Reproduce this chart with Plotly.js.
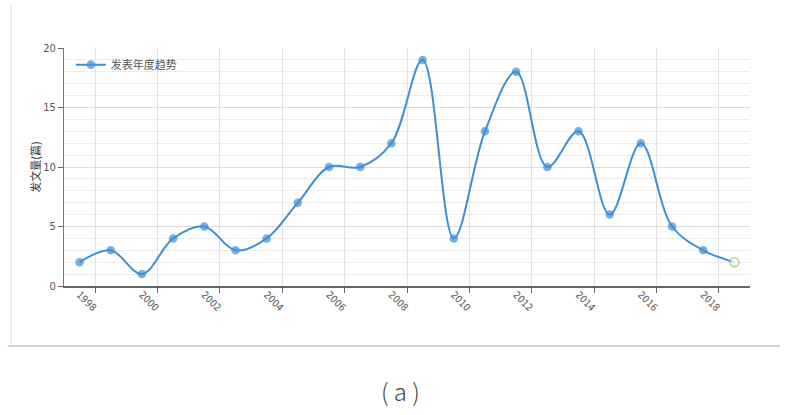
<!DOCTYPE html>
<html>
<head>
<meta charset="utf-8">
<script src="https://cdn.plot.ly/plotly-3.0.1.min.js"></script>
<style>html,body{margin:0;padding:0;background:#fff;}#chart{width:787px;height:415px;}</style>
</head>
<body>
<div id="chart"></div>
<script>
const years = [1998,1999,2000,2001,2002,2003,2004,2005,2006,2007,2008,2009,2010,2011,2012,2013,2014,2015,2016,2017,2018,2019];
const counts = [2,3,1,4,5,3,4,7,10,10,12,19,4,13,18,10,13,6,12,5,3,2];
const labelYears = [1998,2000,2002,2004,2006,2008,2010,2012,2014,2016,2018];
const gridYears = [1998.5,2000.5,2002.5,2004.5,2006.5,2008.5,2010.5,2012.5,2014.5,2016.5,2018.5];
const seriesName = '发表年度趋势';
const yTitle = '发文量(篇)';
const caption = '( a )';

const blue = '#3d8fd6';
const lastIdx = years.length - 1;
const markerColors = years.map((_, i) => i === lastIdx ? '#ffffff' : blue);
const markerLineColors = years.map((_, i) => i === lastIdx ? '#8cc152' : blue);
const markerSizes = years.map((_, i) => i === lastIdx ? 9 : 7);

const traces = [{
  x: years, y: counts, type: 'scatter', mode: 'lines+markers', name: seriesName,
  line: {color: blue, width: 2, shape: 'spline', smoothing: 1},
  marker: {color: markerColors, size: markerSizes, symbol: 'circle',
           line: {color: markerLineColors, width: 1.5}},
  showlegend: true
}, {
  x: years, y: counts, type: 'scatter', mode: 'none', xaxis: 'x2',
  showlegend: false, hoverinfo: 'skip'
}];

const layout = {
  width: 787, height: 415,
  margin: {l: 64, r: 37, t: 48, b: 129},
  paper_bgcolor: '#ffffff', plot_bgcolor: '#ffffff',
  font: {family: 'Liberation Sans, Arial, sans-serif', size: 11, color: '#444'},
  hovermode: false,
  showlegend: true,
  legend: {x: 0.01, y: 0.93, xanchor: 'left', yanchor: 'middle', bgcolor: 'rgba(0,0,0,0)',
           font: {family: 'Noto Sans CJK SC, sans-serif', size: 11, color: '#555'}, itemwidth: 30},
  xaxis: {
    range: [1997.5, 2019.5], tickmode: 'array', tickvals: gridYears, showticklabels: false,
    ticks: 'outside', ticklen: 5, tickcolor: '#666', showgrid: true, gridcolor: '#e2e2e2', gridwidth: 1,
    showline: true, linecolor: '#666', linewidth: 2, zeroline: false
  },
  xaxis2: {
    overlaying: 'x', matches: 'x', side: 'bottom', tickmode: 'array', tickvals: labelYears,
    ticktext: labelYears.map(String), tickangle: 45, ticks: '', showgrid: false, showline: false,
    zeroline: false, tickfont: {family: 'DejaVu Sans Condensed, sans-serif', size: 10, color: '#555'}
  },
  yaxis: {
    range: [0, 20], tickmode: 'linear', tick0: 0, dtick: 5, ticks: 'outside', ticklen: 5, tickcolor: '#666',
    showgrid: true, gridcolor: '#dcdcdc', gridwidth: 1,
    minor: {dtick: 1, showgrid: true, gridcolor: '#ececec', gridwidth: 1},
    showline: true, linecolor: '#777', linewidth: 1, zeroline: false,
    tickfont: {family: 'DejaVu Sans Condensed, sans-serif', size: 11, color: '#555'},
    title: {text: yTitle, font: {family: 'Noto Sans CJK SC, sans-serif', size: 11, color: '#333'}, standoff: 0}
  },
  shapes: [
    {type: 'line', xref: 'paper', yref: 'paper', x0: -0.077, x1: -0.077, y0: -0.252, y1: 1.18,
     line: {color: '#e6e6e6', width: 1.5}},
    {type: 'line', xref: 'paper', yref: 'paper', x0: -0.082, x1: 1.044, y0: -0.252, y1: -0.252,
     line: {color: '#c4c4c4', width: 1.5}}
  ],
  annotations: [
    {text: caption, xref: 'paper', yref: 'paper', x: 0.49, y: -0.437, showarrow: false,
     xanchor: 'center', yanchor: 'middle',
     font: {family: 'Noto Sans CJK SC, sans-serif', size: 24, color: '#444', weight: 300}}
  ]
};

Plotly.newPlot('chart', traces, layout, {displayModeBar: false, staticPlot: true});
</script>
</body>
</html>
